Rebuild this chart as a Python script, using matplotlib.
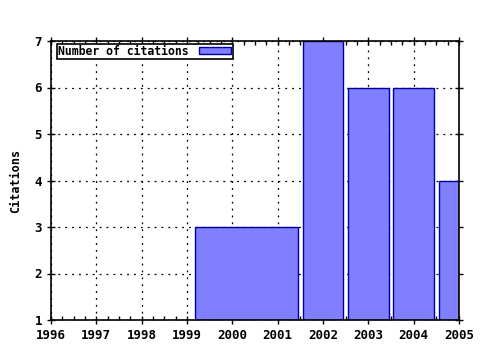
import matplotlib
matplotlib.use("Agg")
import matplotlib.pyplot as plt
import numpy as np
from matplotlib.ticker import MultipleLocator

# bar extents (years) and citation counts
bar_left = [1999.18, 2001.55, 2002.55, 2003.55, 2004.55]
bar_right = [2001.45, 2002.45, 2003.45, 2004.45, 2005.45]
citations = [3, 7, 6, 6, 4]
x_ticks = [1996, 1997, 1998, 1999, 2000, 2001, 2002, 2003, 2004, 2005]
y_ticks = [1, 2, 3, 4, 5, 6, 7]

plt.rcParams['font.family'] = ['DejaVu Sans Mono']

fig = plt.figure(figsize=(4.8, 3.5), dpi=100)
ax = fig.add_axes([51 / 480, 30 / 350, 408 / 480, 279 / 350])

left = np.array(bar_left)
widths = np.array(bar_right) - left
heights = np.array(citations) - 1
ax.bar(left, heights, width=widths, bottom=1, align='edge',
       color='#8080ff', edgecolor='#0000a0', linewidth=1.0,
       label='Number of citations', zorder=2)

ax.set_xlim(1996, 2005)
ax.set_ylim(1, 7)
ax.set_xticks(x_ticks)
ax.set_yticks(y_ticks)
ax.xaxis.set_minor_locator(MultipleLocator(0.25))
ax.tick_params(axis='both', which='major', direction='inout', length=6,
               width=1, top=True, right=True, labelsize=9)
ax.tick_params(axis='x', which='minor', direction='in', length=3,
               width=1, top=True)
for lab in ax.get_xticklabels() + ax.get_yticklabels():
    lab.set_fontweight('bold')

ax.grid(True, which='major', color='black', linestyle=(0, (1.5, 4)),
        linewidth=0.9, zorder=0)
ax.set_axisbelow(True)
for s in ax.spines.values():
    s.set_linewidth(1.2)
    s.set_zorder(3)

ax.set_ylabel('Citations', fontsize=8.5, fontweight='bold', labelpad=9)

leg = ax.legend(loc='upper left', markerfirst=False, fancybox=False,
                framealpha=1, edgecolor='black', prop={'size': 8.3, 'weight': 'bold'},
                borderpad=0.1, handlelength=2.8, handleheight=0.6,
                handletextpad=0.9,
                bbox_to_anchor=(0.012, 0.995), borderaxespad=0.1)
leg.get_frame().set_linewidth(1.2)

fig.savefig('out.png', dpi=100)
